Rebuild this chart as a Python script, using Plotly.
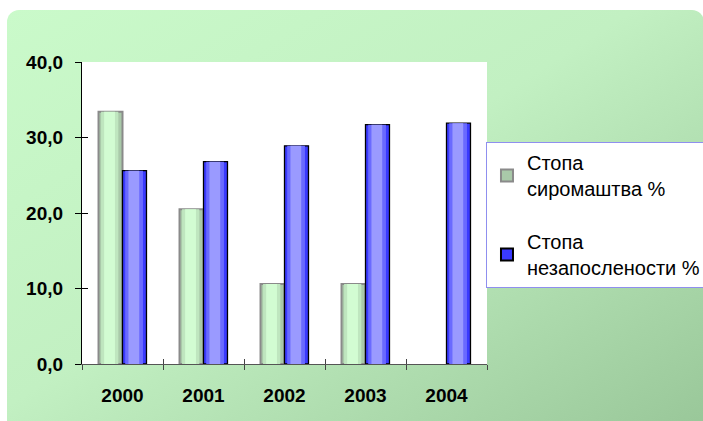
import base64
import plotly.graph_objects as go

years = ["2000", "2001", "2002", "2003", "2004"]
poverty = [33.4, 20.5, 10.6, 10.6, None]
unemployment = [25.6, 26.8, 28.9, 31.7, 31.9]
series_names = ["Стопа<br>сиромаштва %", "Стопа<br>незапослености %"]
y_ticks = [0, 10, 20, 30, 40]

FONT = "Liberation Sans, Arial, sans-serif"
BW = 0.296  # bar width in category units

fig = go.Figure()

# base layers (shown in legend)
fig.add_trace(go.Bar(x=years, y=poverty, name=series_names[0], width=BW, offset=-BW,
                     legendgroup="a",
                     marker=dict(color="#a9c9a9", line=dict(color="#8a8a8a", width=2))))
fig.add_trace(go.Bar(x=years, y=unemployment, name=series_names[1], width=BW, offset=0,
                     legendgroup="b",
                     marker=dict(color="#3a3aff", line=dict(color="#000000", width=1.3))))

# highlight layers (cylinder shading)
def layer(vals, center, w, color, shift):
    fig.add_trace(go.Bar(x=years, y=vals, width=w, offset=center - w / 2 + shift,
                         marker=dict(color=color, line=dict(width=0)),
                         showlegend=False, hoverinfo="skip"))

gc = -BW / 2
bc = BW / 2
layer(poverty, gc, BW * 0.72, "#bfe6bf", -0.01)
layer(poverty, gc, BW * 0.45, "#d2fcd2", -0.012)
layer(unemployment, bc, BW * 0.74, "#6a6aff", -0.005)
layer(unemployment, bc, BW * 0.45, "#9a9aff", -0.008)

svg = ('<svg xmlns="http://www.w3.org/2000/svg" width="700" height="420" viewBox="0 0 700 420">'
       '<defs><linearGradient id="g" x1="0" y1="0" x2="1" y2="1">'
       '<stop offset="0" stop-color="#cafaca"/><stop offset="0.45" stop-color="#c2f0c2"/>'
       '<stop offset="1" stop-color="#97c597"/></linearGradient></defs>'
       '<rect x="0" y="0" width="697" height="440" rx="12" ry="12" fill="url(#g)"/></svg>')
src = "data:image/svg+xml;base64," + base64.b64encode(svg.encode()).decode()

fig.update_layout(
    width=703, height=421,
    margin=dict(l=82, r=216, t=62, b=57, autoexpand=False),
    barmode="overlay",
    paper_bgcolor="rgba(0,0,0,0)",
    plot_bgcolor="white",
    separators=",.",
    font=dict(family=FONT, color="black"),
    images=[dict(source=src, xref="paper", yref="paper",
                 x=(7 - 82) / 405, y=(364 - 10) / 302,
                 sizex=(707 - 7) / 405, sizey=(430 - 10) / 302,
                 xanchor="left", yanchor="top", sizing="stretch", layer="below")],
    shapes=[dict(type="rect", xref="paper", yref="paper", x0=0, x1=1, y0=0, y1=1,
                 fillcolor="white", line=dict(width=0), layer="below")],
    xaxis=dict(type="category", range=[-0.5, 4.5], tickson="boundaries",
               ticks="outside", ticklen=5, tickcolor="#444", tickwidth=1,
               showline=True, linecolor="#555", linewidth=1.3, showgrid=False,
               ticklabelstandoff=14,
               tickfont=dict(family=FONT, size=19, weight="bold", color="black")),
    yaxis=dict(range=[0, 40], tickvals=y_ticks, tickformat=".1f",
               ticks="outside", ticklen=6, tickcolor="black", tickwidth=1,
               showline=True, linecolor="black", linewidth=1.3, showgrid=False,
               zeroline=False, ticklabelstandoff=8,
               tickfont=dict(family=FONT, size=19, weight="bold", color="black")),
    xaxis2=dict(overlaying="x", range=[-0.5, 4.5], tickvals=[-0.5, 0.5, 1.5, 2.5, 3.5, 4.5],
                ticks="inside", ticklen=5, tickcolor="#444", showticklabels=False,
                showline=False, showgrid=False, zeroline=False, anchor="y"),
    yaxis2=dict(overlaying="y", range=[0, 40], tickvals=y_ticks, ticks="inside",
                ticklen=6, tickcolor="black", showticklabels=False, showline=False,
                showgrid=False, zeroline=False, anchor="x"),
    legend=dict(x=0.9975, y=0.735, xanchor="left", yanchor="top",
                bgcolor="white", bordercolor="#8f8fef", borderwidth=1,
                font=dict(family=FONT, size=20, color="black"),
                itemsizing="constant", tracegroupgap=24),
)
# invisible trace so the secondary axes are drawn
fig.add_trace(go.Scatter(x=[None], y=[None], xaxis="x2", yaxis="y2", showlegend=False,
                         hoverinfo="skip"))

fig.write_html("out.html", config={"displayModeBar": False},
               post_script="document.body.style.margin='0px';document.body.style.overflow='hidden';")
